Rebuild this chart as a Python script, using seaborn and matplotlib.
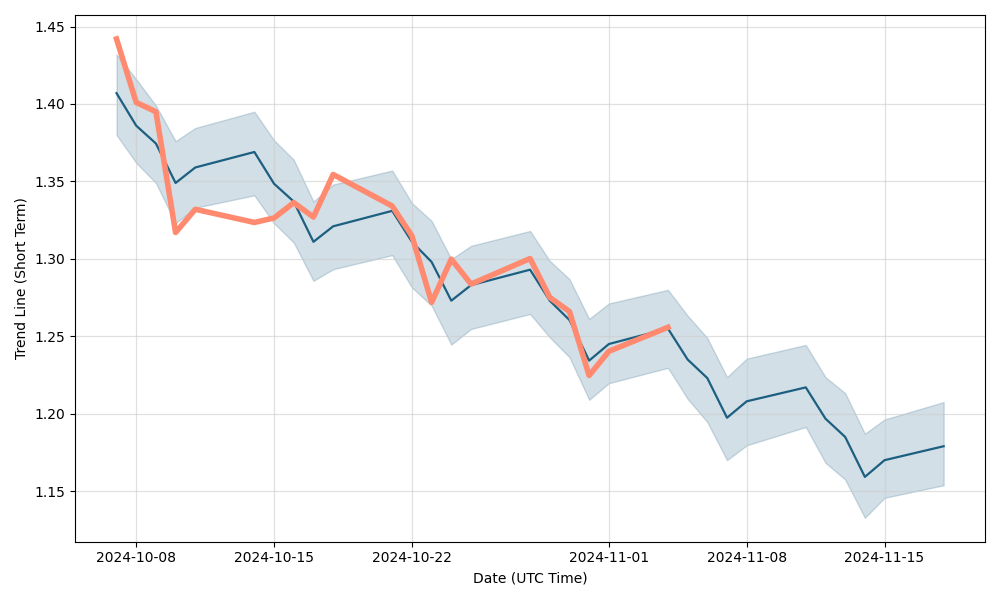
import seaborn as sns
import pandas as pd
import numpy as np
import matplotlib.pyplot as plt
import matplotlib.dates as mdates

# trading days shown on the chart
dates = ["2024-10-07", "2024-10-08", "2024-10-09", "2024-10-10", "2024-10-11",
         "2024-10-14", "2024-10-15", "2024-10-16", "2024-10-17", "2024-10-18",
         "2024-10-21", "2024-10-22", "2024-10-23", "2024-10-24", "2024-10-25",
         "2024-10-28", "2024-10-29", "2024-10-30", "2024-10-31", "2024-11-01",
         "2024-11-04", "2024-11-05", "2024-11-06", "2024-11-07", "2024-11-08",
         "2024-11-11", "2024-11-12", "2024-11-13", "2024-11-14", "2024-11-15",
         "2024-11-18"]

trend = [1.407, 1.386, 1.3745, 1.349, 1.359, 1.369, 1.3485, 1.337, 1.311, 1.321,
         1.331, 1.311, 1.298, 1.273, 1.283, 1.293, 1.273, 1.2605, 1.2343, 1.245,
         1.255, 1.235, 1.223, 1.1974, 1.208, 1.217, 1.1968, 1.185, 1.1592, 1.170,
         1.179]

upper = [1.432, 1.416, 1.399, 1.376, 1.3845, 1.395, 1.3766, 1.364, 1.337, 1.348,
         1.357, 1.336, 1.3245, 1.2998, 1.3084, 1.318, 1.2987, 1.2869, 1.2612, 1.2712,
         1.280, 1.2633, 1.2489, 1.2236, 1.2356, 1.2444, 1.2236, 1.2133, 1.1871, 1.1963,
         1.2075]

lower = [1.380, 1.362, 1.349, 1.323, 1.333, 1.341, 1.323, 1.3105, 1.2858, 1.2933,
         1.3024, 1.2815, 1.2698, 1.2446, 1.2547, 1.2644, 1.2493, 1.2365, 1.209, 1.2197,
         1.2296, 1.2096, 1.1946, 1.170, 1.1796, 1.1914, 1.1683, 1.1575, 1.1328, 1.1457,
         1.1538]

# actual values, only up to 2024-11-04
actual = [1.442, 1.401, 1.395, 1.317, 1.332, 1.3235, 1.3264, 1.3363, 1.327, 1.3545,
          1.3341, 1.3148, 1.2719, 1.2998, 1.2837, 1.3002, 1.2751, 1.266, 1.2247, 1.2403,
          1.2558]

df = pd.DataFrame({"date": pd.to_datetime(dates), "trend": trend,
                   "upper": upper, "lower": lower})
df_actual = pd.DataFrame({"date": pd.to_datetime(dates[:len(actual)]), "actual": actual})

fig, ax = plt.subplots(figsize=(10, 6), dpi=100)
ax.fill_between(df["date"], df["lower"], df["upper"], color="#1f5f82", alpha=0.2)
sns.lineplot(data=df, x="date", y="trend", color="#1c5f80", linewidth=1.6, ax=ax)
sns.lineplot(data=df_actual, x="date", y="actual", color="#ff8a70", linewidth=4, ax=ax)

ax.xaxis.set_major_formatter(mdates.DateFormatter("%Y-%m-%d"))
ax.grid(True, color="#cccccc", alpha=0.6, linewidth=0.9)
ax.set_xlabel("Date (UTC Time)")
ax.set_ylabel("Trend Line (Short Term)")
plt.tight_layout()
fig.savefig("out.png")
